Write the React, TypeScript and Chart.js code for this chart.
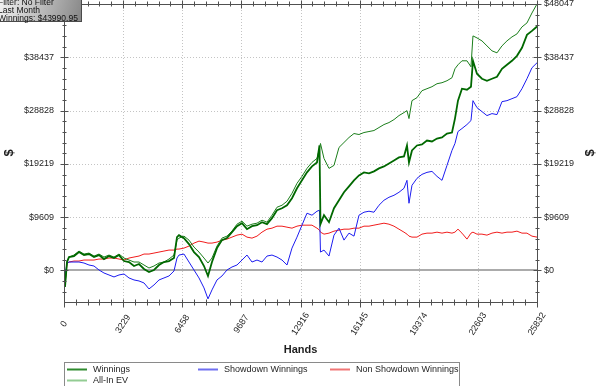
import React, { useEffect, useRef } from "react";
import { Chart, registerables } from "chart.js";

Chart.register(...registerables);

// ---- data (hands on x, dollars on y) ----
const HANDS = [
  0, 55, 164, 273,
  546, 819, 1092, 1365, 1638, 1911, 2184, 2457, 2731, 3004, 3277, 3550, 3823, 4096, 4369, 4642, 4915, 5188, 5461, 5734, 6007,
  6171, 6280,
  6553, 6826, 7099, 7372, 7646,
  7864, 8082,
  8355, 8628, 8901, 9174, 9448, 9721, 9994, 10267, 10540, 10813, 11086, 11359, 11632, 11905, 12178, 12451, 12724, 12997, 13270, 13543, 13816,
  13953, 14007,
  14199,
  14472, 14745, 15018, 15291, 15564, 15837, 16110, 16383, 16656, 16929, 17202, 17475, 17748, 18021, 18294, 18567,
  18731, 18840, 19004,
  19277, 19550, 19823, 20096, 20370, 20643, 20916, 21189,
  21352, 21516, 21734, 22007, 22226, 22335, 22553,
  22826, 23099, 23373, 23646, 23919, 24192, 24465, 24738, 25011, 25284, 25557,
  25832,
];

const WINNINGS = [
  0, -2963, 1527, 2425,
  2604, 3323, 2784, 2963, 2425, 2784, 2065, 2604, 2245, 2784, 1706, 1527, 808, 1167, 269, -269, 90, 988, 1527, 1706, 2245,
  6017, 6376,
  5837, 4759, 3323, 2425, 808,
  -988, 1527,
  4041, 5478, 5837, 6915, 7992, 8531, 7453, 7992, 8172, 8711, 8351, 9429, 10866, 11225, 11764, 13021, 14817, 16254, 17691, 18768, 19487,
  22540, 8351,
  9968,
  8711, 11225, 12662, 14099, 15176, 16254, 17152, 17691, 17511, 17870, 18409, 18768, 19307, 19846, 20385, 20564,
  22540, 19487, 21642,
  22540, 22719, 23438, 23258, 23797, 23977, 24695, 24875,
  27389, 30622, 32777, 32597, 33136, 37806, 35471,
  34573, 34213, 34573, 34932, 36369, 37087, 37806, 38704, 40141, 42475, 43194,
  43991,
];

const ALL_IN_EV = [
  0, -2784, 1527, 2425,
  2784, 3502, 2963, 3143, 2604, 2963, 2425, 2784, 2425, 2963, 2245, 1886, 1527, 1527, 988, 449, 808, 1347, 1527, 2065, 2784,
  5478, 5837,
  6196, 5478, 4221, 3323, 2245,
  1347, 2245,
  4400, 5837, 6196, 7094, 8351, 8890, 7992, 8351, 8531, 9070, 8711, 9968, 11405, 11764, 12482, 13919, 15715, 16972, 18409, 19487, 20205,
  22001, 22899,
  20205,
  18409, 18948, 22181, 23079, 23977, 24695, 24515, 24875, 25054, 25234, 25773, 26311, 26671, 27209, 27928, 28467,
  28826, 27389, 30622,
  31161, 32418, 32777, 33136, 33675, 33855, 34213, 34753,
  36369, 37087, 37806, 37806, 36728, 42296, 41936,
  41398, 40500, 39602, 39243, 40500, 41398, 42116, 42655, 43912, 44631, 46427,
  48047,
];

const SHOWDOWN = [
  0, -988, 1347, 1527,
  1527, 1527, 1347, 988, 808, 90, -449, -808, -1167, -808, -629, -1347, -1706, -1886, -2245, -3323, -2604, -1706, -1347, -988, -90,
  2245, 2784,
  2963, 1527, 90, -1347, -3143,
  -5119, -3502,
  -1706, -988, 90, 629, 988, 1886, 2784, 1527, 1886, 1527, 2604, 2784, 2425, 1886, 988, 4041, 6017, 8172, 10327, 9968, 10686,
  10866, 3323,
  3682,
  2604, 6376, 7633, 5478, 6735, 6196, 9968, 10507, 10686, 10507, 11764, 12662, 13201, 13560, 14099, 14817,
  16254, 12123, 15356,
  16613, 17331, 17691, 17870, 16972, 16254, 18948, 21642,
  22899, 25054, 25593, 26311, 27030, 30622, 29365,
  28646, 27928, 28287, 28107, 30442, 30622, 30981, 31340, 32777, 34573, 36549,
  37447,
];

const NON_SHOWDOWN = [
  0, -2245, 1167, 1527,
  1706, 1706, 1886, 1886, 1886, 2065, 2065, 2245, 2245, 2065, 1886, 2245, 2425, 2604, 2963, 2963, 3143, 3323, 3502, 3682, 3682,
  3861, 3861,
  4041, 4400, 4939, 5298, 5119,
  4939, 4939,
  5119, 5478, 5657, 6017, 6376, 6555, 6017, 5837, 6196, 6915, 7453, 7633, 7992, 7992, 7813, 7633, 7992, 8172, 8172, 8172, 7633,
  7274, 6915,
  6555,
  6735, 7094, 7274, 7453, 7453, 7633, 7633, 7992, 7992, 8172, 8351, 8531, 8351, 7992, 7453, 6915,
  6555, 6196, 6017,
  6017, 6555, 6735, 6735, 6915, 6735, 6915, 6735,
  6915, 7453, 6735, 5657, 6735, 6915, 6555,
  6555, 6376, 6735, 6915, 6735, 6915, 6915, 7094, 6735, 6735, 6196,
  6017,
];

const X_TICKS = [0, 3229, 6458, 9687, 12916, 16145, 19374, 22603, 25832];
const Y_TICKS = [0, 9609, 19219, 28828, 38437, 48047];
const Y_TICK_LABELS = ["$0", "$9609", "$19219", "$28828", "$38437", "$48047"];
const Y_MIN = -5680;
const Y_MAX = 48047;
const X_MAX = 25832;

const LEGEND = [
  { label: "Winnings", color: "#2f8a2f", col: 0, row: 0 },
  { label: "All-In EV", color: "#93cc93", col: 0, row: 1 },
  { label: "Showdown Winnings", color: "#6f6ff0", col: 1, row: 0 },
  { label: "Non Showdown Winnings", color: "#f07676", col: 2, row: 0 },
];

const INFO_LINES = ["Filter: No Filter", "Last Month", "Winnings: $43990.95"];

const FONT = '"Liberation Sans", Arial, sans-serif';

const toPoints = (vals: number[]) => vals.map((v, i) => ({ x: HANDS[i], y: v }));

const decor = {
  id: "decor",
  beforeDatasetsDraw(chart: any) {
    const ctx = chart.ctx;
    const { left, right, top, bottom } = chart.chartArea;
    const xs = chart.scales.x;
    const ys = chart.scales.y;
    ctx.save();
    ctx.strokeStyle = "#c4c4c4";
    ctx.lineWidth = 1;
    ctx.setLineDash([1, 2]);
    X_TICKS.slice(1, -1).forEach((t) => {
      const px = Math.round(xs.getPixelForValue(t)) + 0.5;
      ctx.beginPath();
      ctx.moveTo(px, top);
      ctx.lineTo(px, bottom);
      ctx.stroke();
    });
    Y_TICKS.slice(1, -1).forEach((t) => {
      const py = Math.round(ys.getPixelForValue(t)) + 0.5;
      ctx.beginPath();
      ctx.moveTo(left, py);
      ctx.lineTo(right, py);
      ctx.stroke();
    });
    ctx.setLineDash([]);
    ctx.strokeStyle = "#ababab";
    ctx.lineWidth = 2;
    const zy = Math.round(ys.getPixelForValue(0));
    ctx.beginPath();
    ctx.moveTo(left, zy);
    ctx.lineTo(right, zy);
    ctx.stroke();
    ctx.restore();
  },
  afterDraw(chart: any) {
    const ctx = chart.ctx;
    const { left, right, top, bottom } = chart.chartArea;
    const xs = chart.scales.x;
    const ys = chart.scales.y;
    const L = Math.round(left) + 0.5;
    const R = Math.round(right) + 0.5;
    const T = Math.round(top) + 0.5;
    const B = Math.round(bottom) + 0.5;
    ctx.save();
    ctx.strokeStyle = "#505050";
    ctx.lineWidth = 1;
    ctx.beginPath();
    ctx.moveTo(L, T);
    ctx.lineTo(R, T);
    ctx.lineTo(R, B);
    ctx.lineTo(L, B);
    ctx.closePath();
    ctx.stroke();

    // x ticks (major + 4 minors between)
    const xStep = X_TICKS[1] / 5;
    for (let k = 0; k <= 40; k++) {
      const major = k % 5 === 0;
      const px = Math.round(xs.getPixelForValue(k * xStep)) + 0.5;
      ctx.beginPath();
      ctx.moveTo(px, B - 3);
      ctx.lineTo(px, B + (major ? 5 : 3));
      ctx.moveTo(px, T - (major ? 4 : 3));
      ctx.lineTo(px, T + (major ? 4 : 2));
      ctx.stroke();
    }
    // y ticks
    const yStep = Y_MAX / 25;
    for (let k = -2; k <= 25; k++) {
      const v = k * yStep;
      if (v < Y_MIN) continue;
      const major = k % 5 === 0;
      const py = Math.round(ys.getPixelForValue(v)) + 0.5;
      const len = major ? 4 : 2;
      ctx.beginPath();
      ctx.moveTo(L - len, py);
      ctx.lineTo(L + len, py);
      ctx.moveTo(R - len, py);
      ctx.lineTo(R + len, py);
      ctx.stroke();
    }

    // y labels both sides
    ctx.fillStyle = "#1e1e1e";
    ctx.font = `9px ${FONT}`;
    ctx.textBaseline = "middle";
    Y_TICKS.forEach((t, i) => {
      const py = ys.getPixelForValue(t);
      ctx.textAlign = "right";
      ctx.fillText(Y_TICK_LABELS[i], left - 10, py);
      ctx.textAlign = "left";
      ctx.fillText(Y_TICK_LABELS[i], right + 7, py);
    });

    // x labels rotated
    X_TICKS.forEach((t) => {
      const px = xs.getPixelForValue(t);
      ctx.save();
      ctx.translate(px, bottom + 22);
      ctx.rotate((-57 * Math.PI) / 180);
      ctx.textAlign = "center";
      ctx.textBaseline = "middle";
      ctx.fillText(String(t), 0, 0);
      ctx.restore();
    });

    // axis titles
    ctx.font = `bold 11px ${FONT}`;
    ctx.textAlign = "center";
    ctx.textBaseline = "middle";
    ctx.fillText("Hands", (left + right) / 2, 350);
    ctx.font = `bold 13px ${FONT}`;
    [9, 590].forEach((x) => {
      ctx.save();
      ctx.translate(x, 153);
      ctx.rotate(-Math.PI / 2);
      ctx.fillText("$", 0, 0);
      ctx.restore();
    });

    // legend
    ctx.strokeStyle = "#8a8a8a";
    ctx.strokeRect(L, 362.5, 395, 40);
    const colX = [67, 198, 330];
    const rowY = [369.5, 380.5];
    ctx.font = `9px ${FONT}`;
    ctx.textAlign = "left";
    LEGEND.forEach((it) => {
      const x = colX[it.col];
      const y = rowY[it.row];
      ctx.strokeStyle = it.color;
      ctx.lineWidth = 2;
      ctx.beginPath();
      ctx.moveTo(x, y);
      ctx.lineTo(x + 20, y);
      ctx.stroke();
      ctx.fillStyle = "#1e1e1e";
      ctx.fillText(it.label, x + 26, y);
    });

    // info box
    const g = ctx.createLinearGradient(0, 0, 82, 22);
    g.addColorStop(0, "#f2f2f2");
    g.addColorStop(1, "#858585");
    ctx.fillStyle = g;
    ctx.fillRect(-2, -2, 84, 24);
    ctx.strokeStyle = "#4a4a4a";
    ctx.lineWidth = 1;
    ctx.strokeRect(-2.5, -2.5, 84, 24);
    ctx.fillStyle = "#111";
    ctx.font = `8.5px ${FONT}`;
    ctx.textAlign = "left";
    ctx.textBaseline = "middle";
    INFO_LINES.forEach((t, i) => ctx.fillText(t, -2, 3 + i * 8));
    ctx.restore();
  },
};

export default function App() {
  const ref = useRef<HTMLCanvasElement | null>(null);
  useEffect(() => {
    if (!ref.current) return;
    const chart = new Chart(ref.current, {
      type: "line",
      data: {
        datasets: [
          { label: "Winnings", data: toPoints(WINNINGS), borderColor: "#006800", borderWidth: 1.8 },
          { label: "All-In EV", data: toPoints(ALL_IN_EV), borderColor: "#1a7e1a", borderWidth: 1 },
          { label: "Showdown Winnings", data: toPoints(SHOWDOWN), borderColor: "#1c1cf0", borderWidth: 1 },
          { label: "Non Showdown Winnings", data: toPoints(NON_SHOWDOWN), borderColor: "#f01c1c", borderWidth: 1 },
        ],
      },
      options: {
        animation: false,
        responsive: false,
        devicePixelRatio: 1,
        elements: { point: { radius: 0 }, line: { tension: 0 } },
        layout: { padding: { left: 64, right: 63, top: 4, bottom: 84 } },
        scales: {
          x: { type: "linear", min: 0, max: X_MAX, display: false },
          y: { type: "linear", min: Y_MIN, max: Y_MAX, display: false },
        },
        plugins: { legend: { display: false }, tooltip: { enabled: false } },
      },
      plugins: [decor],
    });
    return () => chart.destroy();
  }, []);
  return (
    <div style={{ position: "absolute", left: 0, top: 0, width: 600, height: 386, background: "#fff" }}>
      <canvas ref={ref} width={600} height={386} style={{ display: "block" }} />
    </div>
  );
}
